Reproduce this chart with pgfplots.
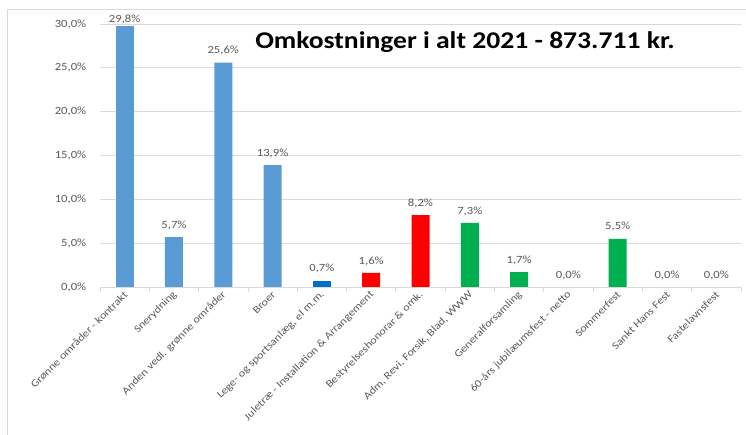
\documentclass[border=0pt]{standalone}
\usepackage{pgfplots}
\pgfplotsset{compat=1.18}
\usepackage{fontspec}
\setmainfont{Carlito}[FakeStretch=1.15]
\definecolor{lblue}{HTML}{5B9BD5}
\definecolor{dblue}{HTML}{0070C0}
\definecolor{xred}{HTML}{FF0000}
\definecolor{xgreen}{HTML}{00B050}
\definecolor{txt}{HTML}{595959}
\definecolor{gridc}{HTML}{D9D9D9}
\begin{document}
\begin{tikzpicture}
\useasboundingbox (0,0) rectangle (746pt,435pt);
\draw[gridc,line width=0.8pt] (7pt,0) -- (7pt,425.5pt) -- (746pt,425.5pt);
\begin{axis}[
  at={(100pt,148pt)}, anchor=south west,
  scale only axis, width=641pt, height=263pt,
  xmin=-0.5, xmax=12.5, ymin=0, ymax=30,
  ybar, bar width=18pt, bar shift=0pt,
  axis x line*=bottom, axis y line*=left,
  x axis line style={-,draw=gridc,line width=0.8pt},
  y axis line style={draw=none},
  ytick={0,5,...,30},
  ymajorgrids, xmajorgrids=false, xminorgrids=false,
  major grid style={draw=gridc,line width=0.8pt},
  ytick style={draw=none},
  yticklabel={\pgfmathprintnumber[fixed,fixed zerofill,precision=1,use comma,assume math mode=true]{\tick}\%},
  yticklabel style={font=\fontsize{11}{13}\selectfont,text=txt,xshift=-6pt},
  xtick={0,...,12},
  major x tick style={draw=none},
  minor xtick={-0.5,0.5,...,12.5},
  minor x tick style={draw=gridc,line width=0.8pt},
  minor tick length=5pt,
  tick align=outside,
  xticklabels={Grønne områder - kontrakt,Snerydning,Anden vedl. grønne områder,Broer,{Lege- og sportsanlæg, el m.m.},Juletræ - Installation \& Arrangement,Bestyrelseshonorar \& omk.,{Adm, Revi, Forsik, Blad, WWW},Generalforsamling,60-års jubilæumsfest - netto,Sommerfest,Sankt Hans Fest,Fastelavnsfest},
  xticklabel style={font=\fontsize{10.5}{12}\selectfont,text=txt,rotate=45,anchor=east,yshift=-2pt,xshift=3pt},
  nodes near coords={\pgfmathprintnumber[fixed,fixed zerofill,precision=1,use comma,assume math mode=true]{\pgfplotspointmeta}\%},
  nodes near coords style={font=\fontsize{11}{13}\selectfont,text=txt,anchor=south,yshift=4pt},
  clip=false,
]
\addplot[fill=lblue,draw=none,nodes near coords style={yshift=-6pt}] coordinates {(0,29.8)};
\addplot[fill=lblue,draw=none] coordinates {(1,5.7) (2,25.6) (3,13.9)};
\addplot[fill=dblue,draw=none] coordinates {(4,0.7)};
\addplot[fill=xred,draw=none] coordinates {(5,1.6) (6,8.2)};
\addplot[fill=xgreen,draw=none] coordinates {(7,7.3) (8,1.7) (10,5.5)};
\addplot[fill=none,draw=none] coordinates {(9,0) (11,0) (12,0)};
\end{axis}
\node[font=\bfseries\fontsize{24}{28}\selectfont,text=black] at (465pt,393pt) {Omkostninger i alt 2021 - 873.711 kr.};
\end{tikzpicture}
\end{document}
